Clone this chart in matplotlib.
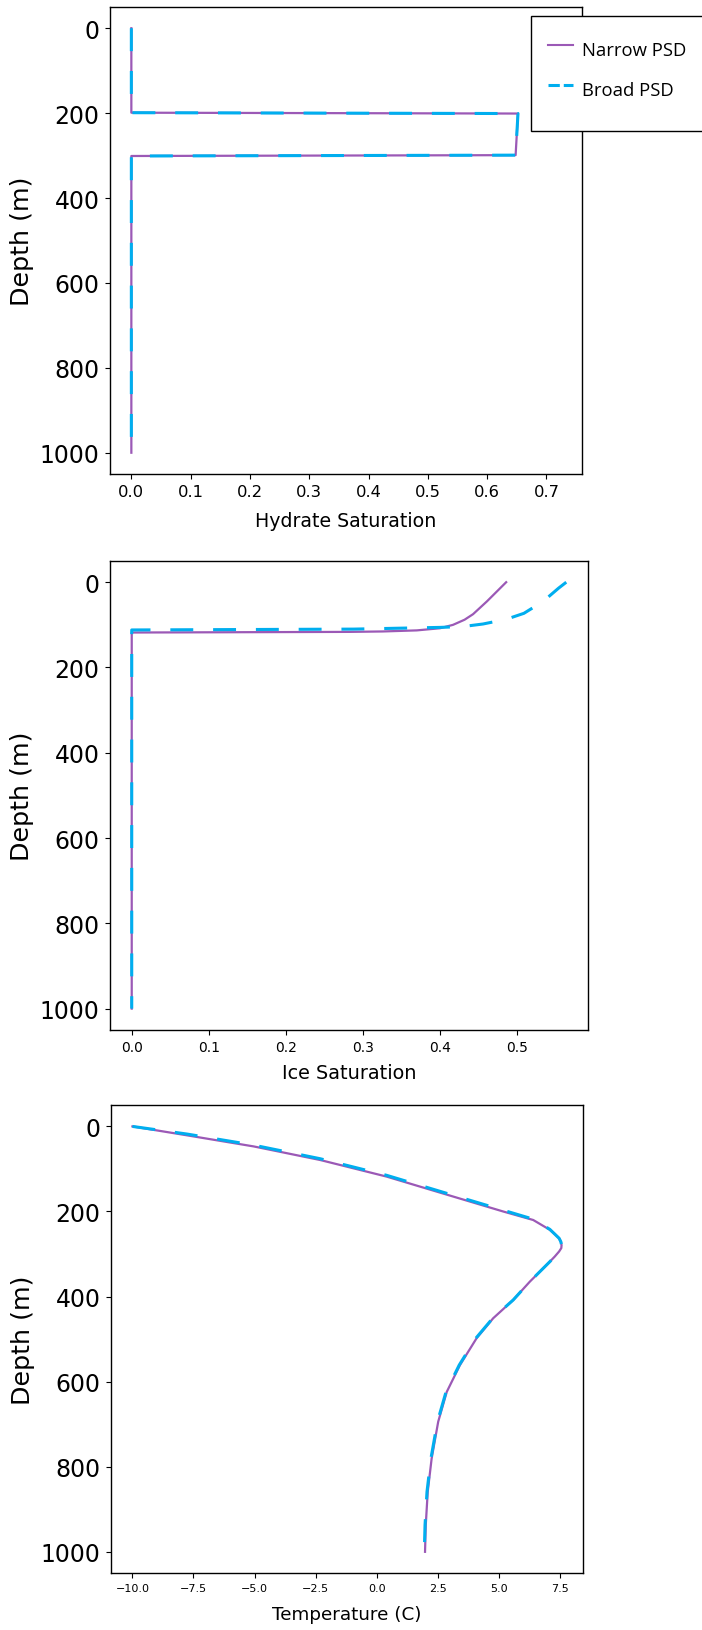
import matplotlib.pyplot as plt
from matplotlib.lines import Line2D
from matplotlib.patches import Rectangle

# 水合物饱和度剖面
hyd_depth = [0, 199, 201, 299, 301, 1000]
hyd_narrow = [0.0, 0.0, 0.652, 0.648, 0.0, 0.0]
hyd_broad = [0.0, 0.0, 0.652, 0.648, 0.0, 0.0]

# 冰饱和度剖面
ice_depth_narrow = [0, 45, 75, 88, 100, 108, 113, 115.5, 116.5, 118, 1000]
ice_narrow = [0.486, 0.461, 0.443, 0.432, 0.417, 0.400, 0.370, 0.326, 0.283, 0.0, 0.0]
ice_depth_broad = [0, 14, 45, 73, 87, 98, 104, 106, 108, 110, 112, 1000]
ice_broad = [0.564, 0.554, 0.534, 0.509, 0.486, 0.456, 0.430, 0.400, 0.344, 0.288, 0.0, 0.0]

# 温度剖面
temp_depth_narrow = [0, 21, 47, 79, 118, 165, 200, 220, 243, 253, 263, 271, 279, 286, 294, 306,
                     318, 365, 408, 451, 498, 561, 624, 694, 781, 859, 937, 1000]
temp_narrow = [-10.0, -7.76, -5.04, -2.31, 0.41, 3.14, 5.18, 6.41, 7.09, 7.29, 7.47, 7.54, 7.57,
               7.56, 7.47, 7.29, 7.09, 6.27, 5.59, 4.77, 4.09, 3.41, 2.87, 2.52, 2.25, 2.09, 2.01,
               1.98]
temp_depth_broad = [0, 18, 44, 76, 115, 162, 197, 218, 242, 253, 263, 271, 279, 286, 294, 306,
                    318, 365, 408, 451, 498, 561, 624, 694, 781, 859, 937, 1000]
temp_broad = [-10.0, -7.76, -5.04, -2.31, 0.41, 3.14, 5.18, 6.41, 7.09, 7.29, 7.47, 7.54, 7.57,
              7.56, 7.47, 7.29, 7.09, 6.27, 5.59, 4.75, 4.06, 3.38, 2.84, 2.49, 2.22, 2.06, 1.98,
              1.95]

depth_ticks = [0, 200, 400, 600, 800, 1000]

紫 = '#9b59b6'
蓝 = '#00aeef'
窄线 = dict(color=紫, lw=1.6, label='Narrow PSD')
宽线 = dict(color=蓝, lw=2.2, dashes=(7.5, 6.5), label='Broad PSD')

W, H = 702, 1631
fig = plt.figure(figsize=(W / 100, H / 100), dpi=100)
ax1 = fig.add_axes([0.1567, 0.7088, 0.6724, 0.2863])
ax2 = fig.add_axes([0.1567, 0.3679, 0.6809, 0.2876])
ax3 = fig.add_axes([0.1581, 0.0349, 0.6724, 0.2869])

# 图1 水合物
ax1.plot(hyd_narrow, hyd_depth, **窄线)
ax1.plot(hyd_broad, hyd_depth, **宽线)
ax1.set_xlim(-0.036, 0.76)
ax1.set_xticks([0.0, 0.1, 0.2, 0.3, 0.4, 0.5, 0.6, 0.7])
ax1.set_xlabel('Hydrate Saturation', fontsize=13.7, labelpad=9)
ax1.tick_params(axis='x', labelsize=11.8)

# 图2 冰
ax2.plot(ice_narrow, ice_depth_narrow, **窄线)
ax2.plot(ice_broad, ice_depth_broad, **宽线)
ax2.set_xticks([0.0, 0.1, 0.2, 0.3, 0.4, 0.5])
ax2.set_xlabel('Ice Saturation', fontsize=13.9, labelpad=6.5)
ax2.tick_params(axis='x', labelsize=10)

# 图3 温度
ax3.plot(temp_narrow, temp_depth_narrow, **窄线)
ax3.plot(temp_broad, temp_depth_broad, **宽线)
ax3.set_xticks([-10.0, -7.5, -5.0, -2.5, 0.0, 2.5, 5.0, 7.5])
ax3.set_xlabel('Temperature (C)', fontsize=13.2, labelpad=9)
ax3.tick_params(axis='x', labelsize=8)

for ax in (ax1, ax2, ax3):
    ax.invert_yaxis()
    ax.set_yticks(depth_ticks)
    ax.tick_params(axis='y', labelsize=17, pad=4)
    ax.set_ylabel('Depth (m)', fontsize=18.3, labelpad=4)
    for s in ax.spines.values():
        s.set_linewidth(1.0)

# 图例框单独画，右侧超出画布的部分被裁掉
fig.patches.append(Rectangle((531 / W, 1 - 132 / H), 0.4, 115 / H, transform=fig.transFigure,
                             facecolor='white', edgecolor='black', lw=1.0, zorder=5))
句柄 = [Line2D([], [], color=紫, lw=1.5),
        Line2D([], [], color=蓝, lw=2.2, dashes=(3.7, 1.3))]
图例 = fig.legend(句柄, ['Narrow PSD', 'Broad PSD'], loc='upper left',
                bbox_to_anchor=(548 / W, 1 - 36 / H), bbox_transform=fig.transFigure,
                borderaxespad=0, borderpad=0, prop={'family': 'Open Sans', 'size': 13.3},
                handlelength=1.35, handletextpad=0.5, handleheight=1.95,
                labelspacing=0.68, frameon=False)
图例.set_zorder(6)

fig.savefig('out.png', dpi=100)
